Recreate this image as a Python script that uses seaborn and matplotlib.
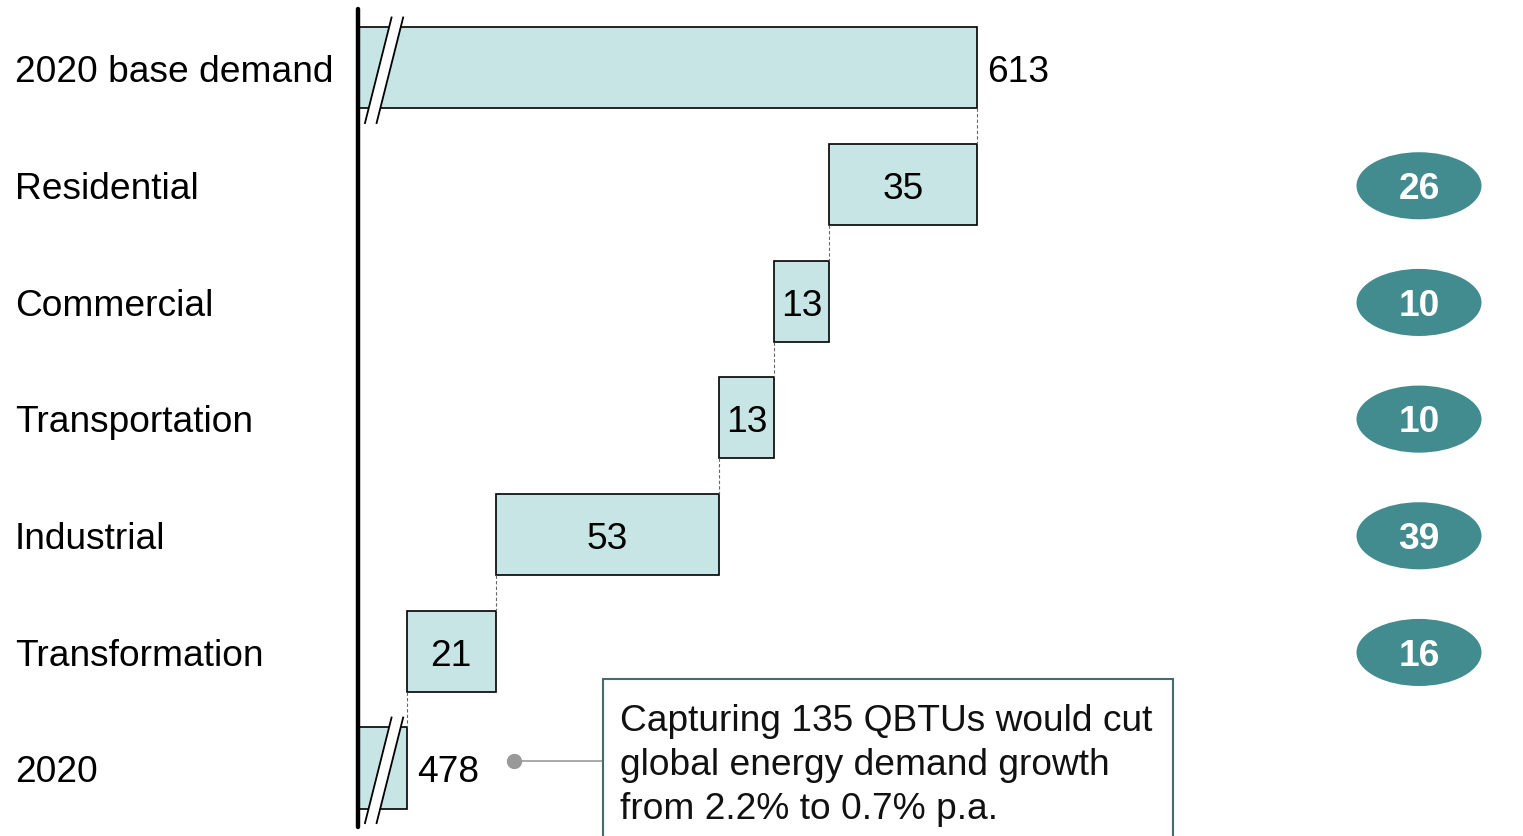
import numpy as np
import matplotlib
matplotlib.use('Agg')
import matplotlib.pyplot as plt
from matplotlib.patches import Ellipse, Polygon, Rectangle
import seaborn as sns

# Chart data
categories = ['2020 base demand', 'Residential', 'Commercial', 'Transportation',
              'Industrial', 'Transformation', '2020']
base_demand = 613
savings = [35, 13, 13, 53, 21]
final_demand = 478
bubble_values = [26, 10, 10, 39, 16]
note = 'Capturing 135 QBTUs would cut\nglobal energy demand growth\nfrom 2.2% to 0.7% p.a.'

# Waterfall start/end per row
ends = [base_demand]
starts = []
level = base_demand
for s in savings:
    starts.append(level - s)
    ends.append(level)
    level -= s
ends.append(final_demand)
axis_start = 466.4  # broken axis origin
starts = [axis_start] + starts + [axis_start]
row_values = [base_demand] + savings + [final_demand]

sns.set_theme(style='white')
plt.rcParams['font.family'] = ['Liberation Sans', 'DejaVu Sans']

fill = '#C8E5E5'
teal = '#428C90'
fs = 26.7

fig = plt.figure(figsize=(15.23, 8.37), dpi=100)
W, H = 1523, 837
ax = fig.add_axes([358 / W, 9 / H, (W - 358) / W, 818 / H])

sns.barplot(x=ends, y=categories, orient='h', width=0.695, color=fill,
            edgecolor='black', linewidth=1.2, saturation=1, ax=ax)

# turn the bars into floating waterfall segments
for patch, x0, x1 in zip(ax.patches, starts, ends):
    patch.set_x(x0)
    patch.set_width(x1 - x0)

px = 4.222  # pixels per unit
ax.set_xlim(axis_start, axis_start + (W - 358) / px)
ax.set_ylim(6.506, -0.505)

# dashed connectors
h = 0.695
for i in range(len(categories) - 1):
    x = ends[i + 1]
    ax.plot([x, x], [i + h / 2, i + 1 - h / 2], color='#666666', lw=0.8,
            ls=(0, (3, 2)), zorder=1)

# break marks on first and last bar
for row in [0, len(categories) - 1]:
    y_top, y_bot = row - 0.44, row + 0.48
    xt, xb = axis_start + 8.0, axis_start + 1.6
    gap = 2.75
    poly = Polygon([[xt, y_top], [xt + gap, y_top], [xb + gap, y_bot], [xb, y_bot]],
                   closed=True, facecolor='white', edgecolor='none', zorder=4,
                   clip_on=False)
    ax.add_patch(poly)
    for off in [0, gap]:
        ax.plot([xt + off, xb + off], [y_top, y_bot], color='black', lw=1.3,
                zorder=5, clip_on=False, solid_capstyle='butt')

# value labels
for i, (v, x0, x1) in enumerate(zip(row_values, starts, ends)):
    if i in (0, len(categories) - 1):
        ax.text(x1 + 2.4, i, str(v), ha='left', va='center_baseline', fontsize=fs,
                color='black')
    else:
        ax.text((x0 + x1) / 2, i, str(v), ha='center', va='center_baseline',
                fontsize=fs, color='black')

# bubbles on the right
bx = axis_start + (1419 - 358) / px
for i, v in enumerate(bubble_values, start=1):
    ax.add_patch(Ellipse((bx, i + 0.01), 125 / px, 0.575, facecolor=teal,
                         edgecolor='none', zorder=3))
    ax.text(bx, i, str(v), ha='center', va='center_baseline', fontsize=fs,
            fontweight='bold', color='white', zorder=4)

# axes styling
for side in ['top', 'right', 'bottom']:
    ax.spines[side].set_visible(False)
ax.spines['left'].set_linewidth(3.2)
ax.spines['left'].set_color('black')
ax.spines['left'].set_capstyle('round')
ax.set_xticks([])
ax.set_xlabel('')
ax.set_ylabel('')
ax.tick_params(axis='y', length=0, pad=(358 - 15) * 0.72, labelsize=fs)
for lab in ax.get_yticklabels():
    lab.set_horizontalalignment('left')
    lab.set_color('black')

# note box with connector
fig.patches.append(Rectangle((603 / W, -0.05), (1173 - 603) / W, 0.05 + (837 - 680) / H,
                             transform=fig.transFigure, facecolor='white',
                             edgecolor='#3F6E6F', lw=1.5, zorder=2))
fig.text(620 / W, (837 - 704) / H, note, ha='left', va='top', fontsize=fs,
         color='#111111', linespacing=1.33, zorder=3)
yc = (761 - 68) / 116.67
ax.plot([axis_start + (514 - 358) / px, axis_start + (603 - 358) / px], [yc, yc],
        color='#999999', lw=1.2, clip_on=False, zorder=2)
ax.plot(axis_start + (514 - 358) / px, yc, 'o', color='#999999', ms=10,
        clip_on=False, zorder=3)

fig.savefig('out.png', dpi=100)
